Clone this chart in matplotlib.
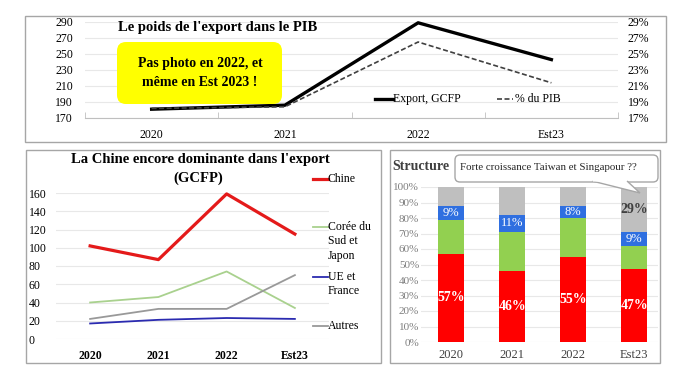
import numpy as np
import matplotlib
matplotlib.use('Agg')
import matplotlib.pyplot as plt
from matplotlib.patches import Rectangle, FancyBboxPatch, Polygon
from matplotlib.lines import Line2D
from matplotlib.transforms import Affine2D

plt.rcParams['font.family'] = ['Liberation Serif', 'DejaVu Serif']

W, H = 684, 385

# --- data ---
years = ['2020', '2021', '2022', 'Est23']
export_gcfp = [181, 186, 289, 243]
export_pib = [18.2, 18.4, 26.5, 21.4]

chine = [102, 87, 159, 115]
coree_japon = [40, 46, 74, 34]
ue_france = [17, 21, 23, 22]
autres = [22, 33, 33, 70]

part_chine = [57, 46, 55, 47]
part_coree = [22, 25, 25, 15]
part_ue = [9, 11, 8, 9]
part_autres = [12, 18, 12, 29]

c_red_line = '#E41A1A'
c_green_line = '#A9D18E'
c_blue_line = '#2B2BB0'
c_grey_line = '#999999'
c_red = '#FF0000'
c_green = '#92D050'
c_blue = '#2F6FE0'
c_grey = '#BFBFBF'
grid_c = '#E8E8E8'

fig = plt.figure(figsize=(W / 100, H / 100), dpi=100)
fig.patch.set_facecolor('white')
# pixel coordinates, origin top-left
px = Affine2D().scale(1 / W, -1 / H).translate(0, 1) + fig.transFigure


def box(x0, y0, x1, y1):
    return [x0 / W, 1 - y1 / H, (x1 - x0) / W, (y1 - y0) / H]


def frame(x0, y0, x1, y1):
    fig.add_artist(Rectangle((x0, y0), x1 - x0, y1 - y0, transform=px,
                             fill=False, ec='#A6A6A6', lw=1.0))


def clean(ax):
    for s in ax.spines.values():
        s.set_visible(False)
    ax.tick_params(length=0)
    ax.grid(axis='y', color=grid_c, lw=0.8)
    ax.set_axisbelow(True)


x = np.arange(len(years))

# ---------------- top chart ----------------
frame(25, 16, 666, 142)
ax1 = fig.add_axes(box(85, 22, 618, 118))
ax1.set_facecolor('none')
clean(ax1)
ax1.spines['bottom'].set_visible(True)
ax1.spines['bottom'].set_color('#BFBFBF')
ax1.plot(x, export_gcfp, color='black', lw=2.4, clip_on=False, zorder=3)
ax1.set_xlim(-0.5, 3.5)
ax1.set_ylim(170, 290)
ax1.set_yticks(range(170, 291, 20))
ax1.set_xticks(x)
ax1.set_xticklabels(years)
ax1.set_xticks(np.arange(-0.5, 3.6, 1), minor=True)
ax1.tick_params(axis='x', which='minor', length=4, direction='in', color='#BFBFBF')
ax1.tick_params(axis='both', labelsize=8.5)
ax1.tick_params(axis='y', pad=8.5)
ax1.tick_params(axis='x', pad=8)

ax2 = ax1.twinx()
for s in ax2.spines.values():
    s.set_visible(False)
ax2.plot(x, export_pib, '--', color='#404040', lw=1.2, dashes=(3, 1.5), clip_on=False)
ax2.set_ylim(17, 29)
ax2.set_yticks(range(17, 30, 2))
ax2.set_yticklabels(['%d%%' % v for v in range(17, 30, 2)])
ax2.tick_params(length=0, labelsize=8.5, pad=7)

fig.text(118, 27, "Le poids de l'export dans le PIB", transform=px,
         fontsize=10.5, fontweight='bold', va='center', ha='left')

fig.add_artist(FancyBboxPatch((117, 42), 165, 62, transform=px,
                              boxstyle='round,pad=0,rounding_size=9',
                              fc='#FFFF00', ec='none'))
fig.text(200, 73, 'Pas photo en 2022, et\nmême en Est 2023 !', transform=px,
         fontsize=10, fontweight='bold', ha='center', va='center', linespacing=1.5)

fig.add_artist(Line2D([375, 393], [99, 99], transform=px, color='black', lw=2.4))
fig.text(393, 99, 'Export, GCFP', transform=px, fontsize=8.5, va='center')
fig.add_artist(Line2D([497, 513], [99, 99], transform=px, color='#404040', lw=1.2,
                      ls='--', dashes=(3, 1.5)))
fig.text(515, 99, '% du PIB', transform=px, fontsize=8.5, va='center')

# ---------------- bottom left ----------------
frame(26, 150, 381, 363)
ax3 = fig.add_axes(box(56, 193, 329, 339))
clean(ax3)
ax3.plot(x, chine, color=c_red_line, lw=2.3, clip_on=False)
ax3.plot(x, coree_japon, color=c_green_line, lw=1.3, clip_on=False)
ax3.plot(x, ue_france, color=c_blue_line, lw=1.3, clip_on=False)
ax3.plot(x, autres, color=c_grey_line, lw=1.3, clip_on=False)
ax3.set_xlim(-0.5, 3.5)
ax3.set_ylim(0, 160)
ax3.set_yticks(range(0, 161, 20))
ax3.set_xticks(x)
ax3.set_xticklabels(years, fontweight='bold')
ax3.tick_params(axis='y', labelsize=8.5, pad=-2)
ax3.tick_params(axis='x', labelsize=8.5, pad=8)
for lab in ax3.get_yticklabels():
    lab.set_horizontalalignment('left')
    lab.set_x(-0.11)

fig.text(200, 160, "La Chine encore dominante dans l'export", transform=px,
         fontsize=10.5, fontweight='bold', ha='center', va='center')
fig.text(198, 178, '(GCFP)', transform=px,
         fontsize=10.5, fontweight='bold', ha='center', va='center')

leg3 = [('Chine', 179, c_red_line, 2.3),
        ('Corée du\nSud et\nJapon', 227, c_green_line, 1.3),
        ('UE et\nFrance', 277, c_blue_line, 1.3),
        ('Autres', 326, c_grey_line, 1.3)]
for name, ly, col, lw in leg3:
    fig.add_artist(Line2D([313, 328], [ly, ly], transform=px, color=col, lw=lw))
    fig.text(328, ly - 6, name, transform=px, fontsize=8.5, va='top', ha='left',
             linespacing=1.25)

# ---------------- bottom right ----------------
frame(390, 150, 660, 363)
ax4 = fig.add_axes(box(420.5, 187, 658, 342))
clean(ax4)
bw = 0.43
b1 = np.array(part_chine)
b2 = b1 + np.array(part_coree)
b3 = b2 + np.array(part_ue)
ax4.bar(x, part_chine, bw, color=c_red)
ax4.bar(x, part_coree, bw, bottom=b1, color=c_green)
ax4.bar(x, part_ue, bw, bottom=b2, color=c_blue)
ax4.bar(x, part_autres, bw, bottom=b3, color=c_grey)
ax4.set_xlim(-0.5, 3.39)
ax4.set_ylim(0, 100)
ax4.set_yticks(range(0, 101, 10))
ax4.set_yticklabels(['%d%%' % v for v in range(0, 101, 10)])
ax4.set_xticks(x)
ax4.set_xticklabels(years)
ax4.tick_params(axis='y', labelsize=8, labelcolor='#7F7F7F', pad=1)
ax4.tick_params(axis='x', labelsize=9, labelcolor='#404040', pad=5)

for i in range(len(years)):
    ax4.text(x[i], part_chine[i] / 2, '%d%%' % part_chine[i], color='white',
             fontsize=10, fontweight='bold', ha='center', va='center')
    ax4.text(x[i], b2[i] + part_ue[i] / 2, '%d%%' % part_ue[i], color='white',
             fontsize=9, ha='center', va='center')
ax4.text(x[3], b3[3] + part_autres[3] / 2, '%d%%' % part_autres[3], color='#404040',
         fontsize=10, fontweight='bold', ha='center', va='center')

fig.text(392, 166, 'Structure', transform=px, fontsize=10, fontweight='bold',
         color='#404040', va='center')

fig.add_artist(FancyBboxPatch((455, 155), 203, 27, transform=px,
                              boxstyle='round,pad=0,rounding_size=5',
                              fc='white', ec='#A6A6A6', lw=1.0, zorder=5))
fig.add_artist(Polygon([(592, 181), (640, 193), (627, 181)], closed=False,
                       transform=px, fc='white', ec='#A6A6A6', lw=1.0, zorder=5))
fig.add_artist(Polygon([(593, 181.6), (626, 181.6), (627, 180), (592, 180)],
                       transform=px, fc='white', ec='none', zorder=6))
fig.text(460, 167, 'Forte croissance Taiwan et Singapour ??', transform=px,
         fontsize=7.8, va='center', color='#262626', zorder=7)

fig.savefig('out.png', dpi=100)
